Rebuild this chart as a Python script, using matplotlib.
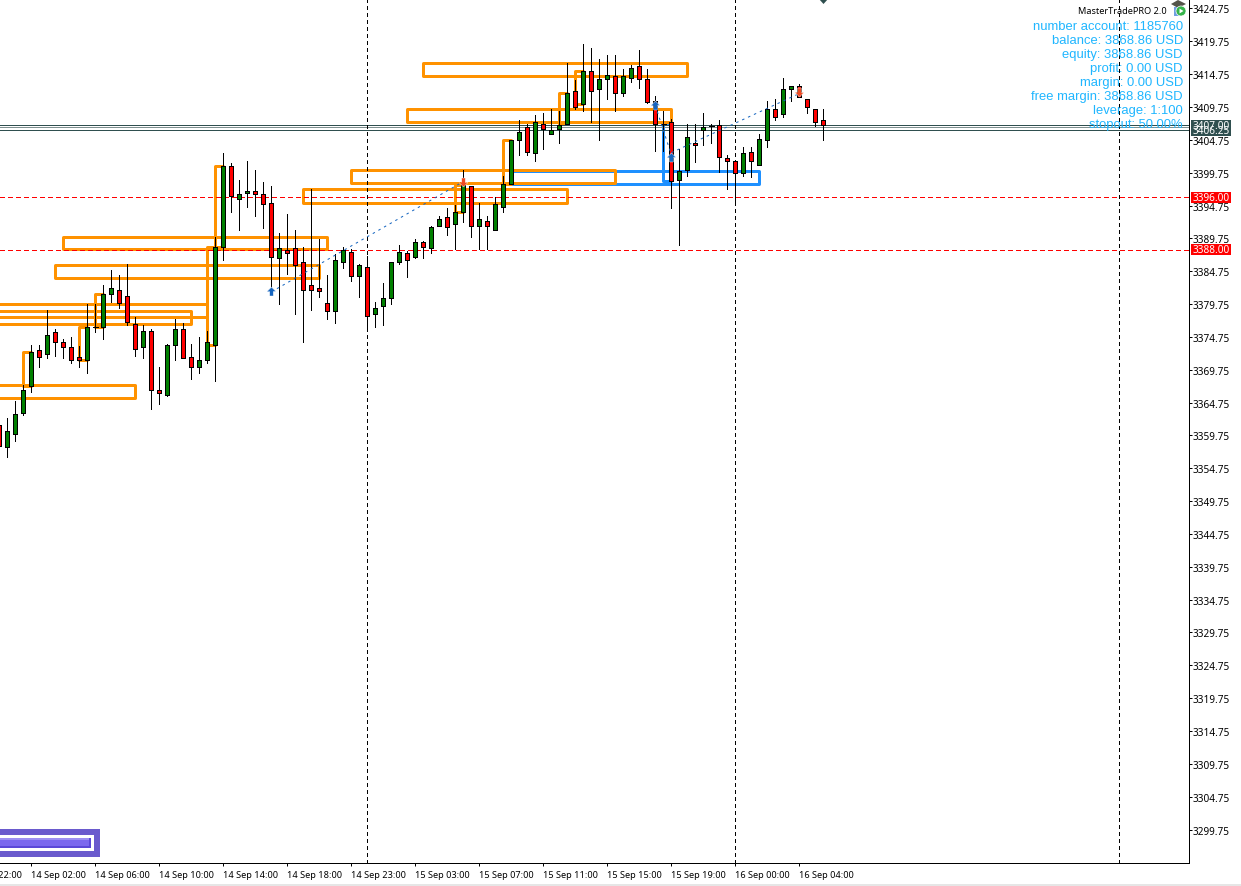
import matplotlib
matplotlib.use("Agg")
import matplotlib.pyplot as plt
from matplotlib.patches import Rectangle, Circle, Polygon
from matplotlib.transforms import blended_transform_factory

W, H = 1241, 887
AX_R, AX_B = 1188.7, 864.0

opens = [3361.3,3358.0,3360.0,3363.1,3367.2,3372.8,3372.1,3375.5,3374.0,3373.2,3371.7,3371.2,3376.3,3376.2,3381.3,3381.9,3381.0,3376.7,3373.2,3375.7,3366.7,3365.9,3373.5,3376.0,3371.7,3370.1,3371.2,3373.5,3388.4,3400.8,3395.8,3396.6,3397.0,3396.5,3395.1,3386.7,3388.0,3388.3,3386.2,3382.7,3382.2,3379.9,3378.7,3386.1,3387.7,3384.0,3385.4,3378.2,3379.4,3380.6,3386.1,3387.6,3386.9,3389.2,3388.3,3391.6,3393.0,3391.9,3393.7,3397.8,3391.6,3392.4,3391.1,3394.5,3398.0,3404.7,3406.7,3402.7,3407.2,3405.6,3406.4,3407.1,3412.2,3410.2,3415.3,3412.5,3414.0,3414.5,3411.9,3414.2,3416.0,3414.0,3410.7,3407.1,3407.5,3398.6,3400.1,3404.3,3406.2,3406.8,3407.0,3402.0,3401.6,3399.7,3402.9,3400.9,3404.8,3409.5,3408.7,3412.5,3413.0,3411.0,3409.5,3407.8]
highs = [3361.6,3362.4,3365.0,3367.5,3373.5,3373.5,3378.8,3376.0,3374.5,3374.8,3373.3,3379.8,3379.8,3382.7,3384.9,3384.2,3385.8,3377.8,3376.5,3376.0,3370.2,3373.7,3377.5,3376.8,3373.7,3374.8,3375.7,3390.0,3402.8,3401.3,3398.6,3401.6,3400.1,3398.3,3397.8,3390.5,3393.5,3391.1,3388.4,3397.3,3389.7,3384.1,3387.3,3388.5,3388.1,3385.8,3387.0,3380.0,3383.0,3386.2,3388.8,3387.9,3389.6,3389.3,3391.6,3393.1,3394.3,3394.9,3400.2,3397.8,3395.2,3393.2,3396.0,3399.3,3404.8,3407.8,3407.2,3408.5,3408.8,3409.5,3409.2,3416.5,3413.8,3419.3,3418.8,3417.0,3417.7,3417.6,3415.5,3416.2,3418.5,3415.5,3411.5,3409.2,3407.9,3403.3,3407.1,3407.2,3408.8,3407.1,3407.8,3402.5,3401.6,3403.7,3403.6,3405.7,3410.7,3411.0,3414.1,3413.0,3413.3,3411.0,3409.5,3409.5]
lows = [3357.8,3356.4,3358.9,3362.9,3366.4,3370.1,3371.5,3371.9,3371.6,3370.8,3370.1,3369.2,3375.5,3374.4,3380.1,3379.1,3376.6,3371.9,3371.5,3363.8,3364.6,3365.7,3371.2,3371.5,3368.4,3369.3,3370.8,3368.1,3386.4,3393.7,3391.1,3394.6,3393.1,3391.4,3382.3,3379.8,3384.4,3378.2,3373.9,3378.9,3380.9,3377.4,3376.9,3385.2,3383.3,3380.9,3376.3,3376.3,3376.6,3379.7,3385.9,3383.9,3386.7,3386.7,3387.6,3391.6,3390.2,3388.2,3392.3,3389.9,3388.2,3388.2,3391.1,3393.7,3398.0,3402.4,3402.4,3401.6,3403.4,3405.6,3404.3,3407.1,3409.4,3409.1,3407.4,3404.7,3410.9,3409.1,3411.4,3413.6,3412.6,3410.3,3403.1,3403.1,3394.4,3388.8,3399.3,3401.4,3403.9,3404.3,3399.9,3397.3,3395.4,3399.3,3399.1,3400.9,3403.6,3407.7,3408.2,3410.7,3411.2,3408.9,3406.8,3404.8]
closes = [3358.2,3360.4,3363.0,3366.7,3372.5,3371.7,3375.1,3373.9,3373.2,3371.2,3371.2,3376.3,3376.3,3381.3,3382.2,3379.9,3377.0,3372.9,3375.7,3366.6,3366.2,3373.5,3376.0,3371.5,3370.1,3371.3,3374.0,3388.5,3400.8,3396.2,3396.5,3397.0,3396.5,3395.0,3386.9,3388.3,3387.5,3385.7,3381.9,3381.9,3381.7,3378.7,3386.5,3388.0,3384.0,3385.7,3377.9,3379.2,3380.7,3386.2,3387.7,3386.5,3389.2,3388.4,3391.5,3392.7,3391.5,3393.8,3397.9,3391.6,3392.7,3391.6,3395.0,3398.0,3404.8,3406.0,3402.9,3407.5,3406.4,3406.3,3407.0,3411.9,3409.7,3415.3,3412.2,3414.0,3414.7,3411.9,3414.5,3415.7,3414.0,3410.5,3407.1,3407.1,3398.5,3400.0,3405.2,3403.9,3406.7,3406.8,3402.1,3401.5,3399.7,3402.8,3401.6,3404.9,3409.5,3408.2,3412.5,3413.0,3411.3,3409.7,3407.5,3407.0]
first_bar = -1

orange_zones = [
    (7, 40, 3390.0, 3388.06), (6, 39, 3385.7, 3383.75), (-5, 23, 3378.7, 3376.75),
    (-5, 25, 3379.8, 3377.75), (25, 26, 3388.5, 3373.5), (26, 27, 3400.8, 3388.4),
    (9, 10, 3376.3, 3371.2), (11, 12, 3381.3, 3376.3), (2, 3, 3372.5, 3367.2),
    (-5, 16, 3367.5, 3365.5), (37, 70, 3397.3, 3395.2), (43, 76, 3400.2, 3398.15),
    (56, 57, 3397.9, 3393.7), (62, 63, 3404.8, 3398.05), (50, 83, 3409.5, 3407.5),
    (52, 85, 3416.5, 3414.5), (69, 70, 3411.9, 3407.1), (71, 72, 3415.3, 3410.2),
]
blue_zones = [(63, 94, 3400.0, 3398.05), (82, 83, 3407.35, 3398.5)]

trade_lines = [((33, 3381.6), (57, 3398.4)), ((81, 3410.0), (83, 3402.5)), ((83, 3402.8), (99, 3411.8))]
buy_arrows = [(33, 3381.8), (81, 3410.0), (83, 3402.1)]
sell_arrows = [(57, 3398.4), (99, 3412.1)]

flat_levels = [3407.0, 3406.7, 3406.25]
level_tags = [3407.00, 3406.25]
red_levels = [3396.0, 3388.0]
separator_bars = [45, 91, 139]

price_ticks = [3424.75 - 5 * k for k in range(26)]
time_tick_bars = [3, 11, 19, 27, 35, 43, 51, 59, 67, 75, 83, 91, 99]
time_labels = ["14 Sep 02:00", "14 Sep 06:00", "14 Sep 10:00", "14 Sep 14:00",
               "14 Sep 18:00", "14 Sep 23:00", "15 Sep 03:00", "15 Sep 07:00", "15 Sep 11:00",
               "15 Sep 15:00", "15 Sep 19:00", "16 Sep 00:00", "16 Sep 04:00"]
clipped_tick_bar = -5
clipped_label = "13 Sep 22:00"
info_lines = ["number account: 1185760", "balance: 3868.86 USD", "equity: 3868.86 USD",
              "profit: 0.00 USD", "margin: 0.00 USD", "free margin: 3868.86 USD",
              "leverage: 1:100", "stopout: 50.00%"]

PX = 0.72
SLATE = "#2f4f4f"
ORANGE = "#ff9200"
BLUE = "#1e90ff"
ARROW_BLUE = "#1565c0"
UI_FONT = "Noto Sans"
Y_TOP = 3426.196

fig = plt.figure(figsize=(W / 100, H / 100), dpi=100, facecolor="white")
ax = fig.add_axes([0, 1 - AX_B / H, AX_R / W, AX_B / H])

ui = fig.add_axes([0, 0, 1, 1], zorder=5)
ui.set_xlim(0, W); ui.set_ylim(H, 0); ui.axis("off"); ui.patch.set_alpha(0)

for k, (l, r, t, b) in enumerate(blue_zones + orange_zones):
    col = BLUE if k < len(blue_zones) else ORANGE
    ax.add_patch(Rectangle((l, b), r - l, t - b, fill=False, ec=col, lw=3 * PX,
                           joinstyle="round", zorder=2 if col == BLUE else 2.5))

for p in flat_levels:
    ax.axhline(p, color="#7f9090" if p == 3406.7 else SLATE, lw=PX, zorder=3, antialiased=False)
for p in red_levels:
    ax.axhline(p, color="#ff0000", lw=PX, ls=(0, (5, 3.5)), zorder=3, antialiased=False)
for b in separator_bars:
    ax.axvline(b, color="black", lw=PX, ls=(0, (3.5, 3.5)), zorder=3, antialiased=False)

bars = list(range(first_bar, first_bar + len(opens)))
ax.vlines(bars, lows, highs, color="black", lw=PX, zorder=4, antialiased=False)
for x, o, c in zip(bars, opens, closes):
    if abs(o - c) < 0.01:
        ax.hlines(o, x - 0.3, x + 0.3, color="black", lw=PX, zorder=5, antialiased=False)
    else:
        ax.bar(x, abs(c - o), 0.5, min(o, c), color="#008000" if c > o else "#ff0000",
               edgecolor="black", linewidth=PX, zorder=5, antialiased=False)

for (a, b) in trade_lines:
    ax.plot([a[0], b[0]], [a[1], b[1]], color=ARROW_BLUE, lw=PX, ls=(0, (2.5, 4)), zorder=6)
up_arrow = [(-1, 0), (0, 1), (1, 0), (0.4, 0), (0.4, -1), (-0.4, -1), (-0.4, 0)]
down_arrow = [(x, -y) for x, y in up_arrow]
ax.scatter(*zip(*buy_arrows), marker=up_arrow, s=42, color=ARROW_BLUE, ec="white", lw=0.3, zorder=7)
ax.scatter(*zip(*sell_arrows), marker=down_arrow, s=42, color="#ef4a23", ec="white", lw=0.3, zorder=7)

ax.set_yticks(price_ticks)
ax.set_yticklabels([f"{p:.2f}" for p in price_ticks], fontsize=7.2, family=UI_FONT)
ax.yaxis.tick_right()
ax.set_xticks(time_tick_bars)
ax.set_xticklabels(time_labels, fontsize=6.6, family=UI_FONT, ha="left")
ax.tick_params(axis="y", length=2.5, width=PX, pad=0.6, color="black")
ax.tick_params(axis="x", length=2.5, width=PX, pad=2.2, color="black")
for s in ("left", "top"):
    ax.spines[s].set_visible(False)
for s in ("right", "bottom"):
    ax.spines[s].set_linewidth(PX)
    ax.spines[s].set_antialiased(False)

ax.set_xlim(-0.9125, (AX_R - 7.3) / 8)
ax.set_ylim(Y_TOP - 0.15225 * AX_B, Y_TOP)

ax.text(clipped_tick_bar, -0.0077, clipped_label, transform=blended_transform_factory(ax.transData, ax.transAxes),
        fontsize=6.6, family=UI_FONT, ha="left", va="top", clip_on=False)

def tag(y, txt, col):
    ui.add_patch(Rectangle((1191, y - 5.5), 40, 11, fc=col, ec="none", zorder=6))
    ui.text(1211, y, txt, color="white", fontsize=7.2, family=UI_FONT, ha="center", va="center", zorder=7)

py = lambda p: (Y_TOP - p) / 0.15225
for p in level_tags:
    tag(py(p), f"{p:.2f}", SLATE)
for p in red_levels:
    tag(py(p), f"{p:.2f}", "#ff0000")

ui.text(1167, 11, "MasterTradePRO 2.0", fontsize=6.6, family=UI_FONT, ha="right", va="center", color="black")
for k, s in enumerate(info_lines):
    ui.text(1183, 26.6 + 14 * k, s, fontsize=9.4, family="Liberation Sans", ha="right", va="center", color="#1fb6ff", zorder=3)

ui.add_patch(Polygon([(1171, 5), (1178, 1), (1186, 5), (1178, 9)], fc="#54544a", ec="none"))
ui.add_patch(Rectangle((1174, 8), 6, 9, fc="#6f9fe0", ec="none"))
ui.add_patch(Circle((1181, 12), 5, fc="#35b44a", ec="white", lw=0.5))
ui.add_patch(Polygon([(1179.5, 9.5), (1179.5, 14.5), (1183.5, 12)], fc="white", ec="none"))

ui.add_patch(Polygon([(819, 0), (828, 0), (823.5, 5)], fc=SLATE, ec="none"))

ui.add_patch(Rectangle((-5, 830), 105, 28, fc="#6a5acd", ec="none"))
ui.add_patch(Rectangle((-5, 835.7), 99, 16.6, fc="white", ec="none"))
ui.add_patch(Rectangle((-5, 839), 96, 10, fc="#5b48d8", ec="none"))
ui.add_patch(Rectangle((-5, 839), 94, 8, fc="#7b68ee", ec="none"))
ui.add_patch(Rectangle((-5, 839), 94, 2, fc="#9d8ff2", ec="none"))

ui.add_patch(Rectangle((0, 885), W, 2, fc="#e6e6e6", ec="none"))

fig.savefig("out.png", dpi=100)
